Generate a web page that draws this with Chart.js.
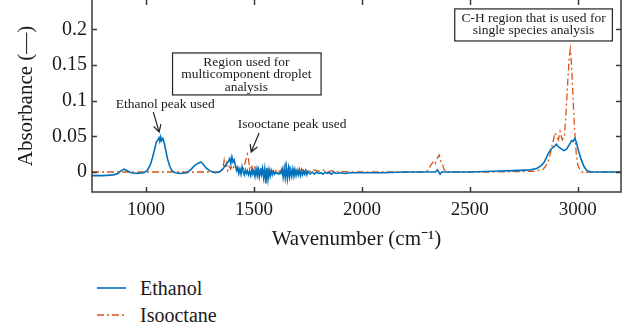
<!DOCTYPE html>
<html lang="en">
<head>
<meta charset="UTF-8" />
<title>FTIR absorbance</title>
<script src="https://cdn.jsdelivr.net/npm/chart.js"></script>
<style>
  body { margin: 0; background: #fff; }
  #wrap { position: relative; width: 631px; height: 332px; font-family: "Liberation Serif", serif; }
  #legend { position: absolute; left: 0; top: 262px; width: 631px; height: 70px; }
  .item { position: absolute; left: 97px; height: 24px; display: flex; align-items: center; font-size: 20px; color: #1a1a1a; }
  .item svg { margin-right: 14px; }
</style>
</head>
<body>
<div id="wrap">
  <canvas id="chart" width="631" height="262"></canvas>
  <div id="legend"></div>
</div>
<script>
// spectra: [wavenumber, absorbance]
const ethanolPoints = [
  [750,-0.005],[800,-0.005],[850,-0.004],[870,-0.002],[885,0.002],[898,0.004],[912,0.002],[930,-0.001],
  [960,-0.002],[990,-0.001],[1005,0.002],[1020,0.01],[1030,0.02],[1040,0.032],[1048,0.042],[1055,0.045],
  [1060,0.048],[1064,0.043],[1068,0.049],[1072,0.044],[1078,0.047],[1085,0.04],[1092,0.03],[1100,0.018],
  [1110,0.008],[1120,0.002],[1135,-0.001],[1160,-0.002],[1190,-0.001],[1210,0.004],[1225,0.009],[1240,0.012],
  [1255,0.014],[1265,0.011],[1280,0.005],[1300,0.001],[1320,-0.001],[1340,0],[1355,0.004],[1370,0.01],
  [1380,0.014],[1388,0.019],[1393,0.012],[1398,0.021],[1403,0.014],[1408,0.017],[1415,0.008],[1420,0.002],
  [1425,0.006],[1430,-0.002],[1435,0.004],[1440,-0.003],[1445,0.007],[1450,0],[1455,-0.004],[1460,0.003],
  [1465,-0.002],[1470,0.002],[1475,-0.004],[1480,0.001],[1485,-0.005],[1490,0.003],[1495,-0.003],[1500,0.002],
  [1505,-0.006],[1510,0.004],[1515,-0.005],[1520,0.003],[1525,-0.007],[1530,0.002],[1535,-0.004],[1540,0.005],
  [1545,-0.008],[1550,0.004],[1555,-0.016],[1560,0.006],[1565,-0.01],[1570,0.003],[1575,-0.006],[1580,0.002],
  [1585,-0.004],[1590,0.001],[1595,-0.003],[1600,0],[1605,-0.002],[1610,-0.001],[1615,-0.003],[1620,-0.001],
  [1625,-0.002],[1630,0.004],[1635,-0.007],[1640,0.005],[1645,-0.008],[1650,0.006],[1655,-0.009],[1660,0.005],
  [1665,-0.007],[1670,0.003],[1675,-0.006],[1680,0.004],[1685,-0.006],[1690,0.003],[1695,-0.005],[1700,0.002],
  [1705,-0.004],[1710,0.003],[1715,-0.005],[1720,0.002],[1725,-0.004],[1730,0.001],[1735,-0.003],[1740,0.002],
  [1745,-0.004],[1750,0.001],[1760,-0.003],[1770,0],[1780,-0.003],[1790,0],[1800,-0.002],[1810,-0.001],
  [1820,-0.003],[1830,0],[1840,-0.002],[1850,-0.001],[1860,-0.003],[1870,0],[1880,-0.002],[1900,-0.001],
  [1920,-0.002],[1950,-0.001],[2000,-0.001],[2100,-0.001],[2200,0],[2300,0],[2340,0],[2350,0.003],
  [2356,0],[2362,-0.003],[2370,0],[2400,0],[2500,0],[2600,0.001],[2700,0.002],[2780,0.003],[2810,0.005],
  [2830,0.009],[2845,0.014],[2860,0.024],[2875,0.032],[2888,0.035],[2895,0.037],[2901,0.039],[2908,0.036],
  [2920,0.033],[2935,0.03],[2948,0.032],[2960,0.038],[2972,0.044],[2978,0.043],[2986,0.047],[2993,0.042],
  [3003,0.03],[3015,0.018],[3028,0.008],[3042,0.002],[3060,0],[3200,0]
];
const isooctanePoints = [
  [750,0],[1000,0],[1200,0],[1340,0],[1355,0.003],[1362,0.016],[1367,0.005],[1372,0.012],[1378,0.002],
  [1385,0.008],[1392,0.004],[1400,0.01],[1410,0.004],[1420,0.007],[1430,0.003],[1440,0.006],[1450,0.004],
  [1458,0.012],[1465,0.02],[1470,0.025],[1475,0.018],[1480,0.005],[1488,0.01],[1495,0.002],[1502,0.008],
  [1510,0],[1518,0.006],[1525,0.001],[1532,0.007],[1540,0],[1550,0.005],[1560,0],[1570,0.004],[1580,0],
  [1590,0.003],[1600,0.001],[1610,0.004],[1620,0],[1630,0.005],[1640,0],[1648,0.012],[1655,0],[1662,0.008],
  [1670,0],[1680,0.006],[1690,0],[1700,0.005],[1710,0],[1720,0.004],[1735,0.001],[1750,0.003],[1765,0],
  [1780,0.003],[1800,0.001],[1820,0.003],[1840,0],[1860,0.002],[1880,0],[1900,0.001],[1950,0],[2000,0],
  [2290,0],[2305,0.002],[2320,0.01],[2332,0.015],[2340,0.012],[2350,0.02],[2358,0.024],[2365,0.015],
  [2372,0.012],[2380,0.004],[2390,0],[2600,0],[2800,0.001],[2840,0.004],[2860,0.012],[2872,0.025],
  [2885,0.042],[2895,0.055],[2902,0.05],[2910,0.045],[2918,0.057],[2928,0.045],[2938,0.05],[2945,0.08],
  [2952,0.12],[2960,0.16],[2965,0.172],[2970,0.155],[2977,0.11],[2985,0.06],[2993,0.025],[3000,0.01],
  [3010,0.003],[3025,-0.001],[3050,0],[3200,0]
];
const xTicks = [1000, 1500, 2000, 2500, 3000];
const yTicks = [0, 0.05, 0.1, 0.15, 0.2];
const yTickLabels = ['0', '0.05', '0.1', '0.15', '0.2'];

const blue = 'rgb(0,114,189)';
const orange = 'rgb(217,83,25)';
const ink = '#1a1a1a';

Chart.defaults.font.family = '"Liberation Serif", serif';
Chart.defaults.color = ink;

// boxes, labels and arrows, placed in data units
const notes = [
  { type: 'text', x: 1089, y: 0.094, lines: ['Ethanol peak used'] },
  { type: 'arrow', x1: 1034, y1: 0.084, x2: 1061, y2: 0.056 },
  { type: 'text', x: 1677, y: 0.066, lines: ['Isooctane peak used'] },
  { type: 'arrow', x1: 1524, y1: 0.0547, x2: 1487, y2: 0.028 },
  { type: 'box', x1: 1123, y1: 0.1668, x2: 1811, y2: 0.108, x: 1465, y: 0.1365,
    lines: ['Region used for', 'multicomponent droplet', 'analysis'] },
  { type: 'box', x1: 2430, y1: 0.2285, x2: 3160, y2: 0.1836, x: 2795, y: 0.207,
    lines: ['C-H region that is used for', 'single species analysis'] }
];

const framePlugin = {
  id: 'frame',
  afterDraw(chart) {
    const { ctx, chartArea: a, scales: { x, y } } = chart;
    ctx.save();
    ctx.strokeStyle = '#3a3a3a';
    ctx.lineWidth = 1.5;
    ctx.beginPath();
    ctx.moveTo(a.left, a.top); ctx.lineTo(a.left, a.bottom);
    ctx.lineTo(a.right, a.bottom); ctx.lineTo(a.right, a.top);
    xTicks.forEach(v => {
      const px = Math.round(x.getPixelForValue(v)) + 0.5;
      ctx.moveTo(px, a.bottom); ctx.lineTo(px, a.bottom - 5);
      ctx.moveTo(px, a.top); ctx.lineTo(px, a.top + 5);
    });
    yTicks.forEach(v => {
      const py = Math.round(y.getPixelForValue(v)) + 0.5;
      ctx.moveTo(a.left, py); ctx.lineTo(a.left + 5, py);
      ctx.moveTo(a.right, py); ctx.lineTo(a.right - 5, py);
    });
    ctx.stroke();

    ctx.font = '13.5px "Liberation Serif", serif';
    ctx.fillStyle = ink;
    ctx.strokeStyle = '#222';
    ctx.textAlign = 'center';
    ctx.textBaseline = 'middle';
    notes.forEach(n => {
      if (n.type === 'arrow') {
        const x1 = x.getPixelForValue(n.x1), y1 = y.getPixelForValue(n.y1);
        const x2 = x.getPixelForValue(n.x2), y2 = y.getPixelForValue(n.y2);
        const ang = Math.atan2(y2 - y1, x2 - x1);
        ctx.lineWidth = 1.2;
        ctx.beginPath();
        ctx.moveTo(x1, y1); ctx.lineTo(x2, y2);
        ctx.moveTo(x2 - 8 * Math.cos(ang - 0.5), y2 - 8 * Math.sin(ang - 0.5));
        ctx.lineTo(x2, y2);
        ctx.lineTo(x2 - 8 * Math.cos(ang + 0.5), y2 - 8 * Math.sin(ang + 0.5));
        ctx.stroke();
        return;
      }
      if (n.type === 'box') {
        const bx = x.getPixelForValue(n.x1), by = y.getPixelForValue(n.y1);
        const bw = x.getPixelForValue(n.x2) - bx, bh = y.getPixelForValue(n.y2) - by;
        ctx.fillStyle = '#fff';
        ctx.fillRect(bx, by, bw, bh);
        ctx.lineWidth = 1.2;
        ctx.strokeRect(bx, by, bw, bh);
        ctx.fillStyle = ink;
      }
      const cx = x.getPixelForValue(n.x), cy = y.getPixelForValue(n.y);
      const lh = 12.5;
      n.lines.forEach((t, i) => {
        ctx.fillText(t, cx, cy + (i - (n.lines.length - 1) / 2) * lh);
      });
    });
    ctx.restore();
  }
};

const chart = new Chart(document.getElementById('chart'), {
  type: 'line',
  data: {
    datasets: [
      {
        label: 'Ethanol',
        data: ethanolPoints.map(p => ({ x: p[0], y: p[1] })),
        borderColor: blue,
        borderWidth: 1.6,
        pointRadius: 0,
        tension: 0
      },
      {
        label: 'Isooctane',
        data: isooctanePoints.map(p => ({ x: p[0], y: p[1] })),
        borderColor: orange,
        borderWidth: 1.3,
        borderDash: [7, 3, 2, 3],
        pointRadius: 0,
        tension: 0
      }
    ]
  },
  options: {
    responsive: false,
    animation: false,
    devicePixelRatio: 1,
    layout: { padding: { top: 0, right: 10, left: 0, bottom: 0 } },
    plugins: { legend: { display: false }, tooltip: { enabled: false } },
    scales: {
      x: {
        type: 'linear',
        min: 750,
        max: 3200,
        grid: { display: false, drawTicks: false },
        border: { display: false },
        afterBuildTicks: s => { s.ticks = xTicks.map(v => ({ value: v })); },
        afterFit: s => { s.height = 70; s.paddingLeft = 0; s.paddingRight = 0; },
        ticks: { padding: 7, font: { size: 19 }, maxRotation: 0, autoSkip: false, callback: v => String(v) },
        title: { display: true, text: 'Wavenumber (cm\u207B\u00B9)', font: { size: 21 }, padding: { top: 0, bottom: 10 } }
      },
      y: {
        min: -0.028,
        max: 0.241,
        grid: { display: false, drawTicks: false },
        border: { display: false },
        afterBuildTicks: s => { s.ticks = yTicks.map(v => ({ value: v })); },
        afterFit: s => { s.width = 92; s.paddingTop = 0; s.paddingBottom = 0; },
        ticks: { padding: 5, font: { size: 20 }, autoSkip: false, callback: v => yTickLabels[yTicks.indexOf(v)] },
        title: { display: true, text: 'Absorbance (\u2014)', font: { size: 21 }, padding: { top: 14, bottom: 0 } }
      }
    }
  },
  plugins: [framePlugin]
});

// legend below the plot, two rows
const legend = document.getElementById('legend');
chart.data.datasets.forEach((ds, i) => {
  const item = document.createElement('div');
  item.className = 'item';
  item.style.top = (14 + i * 27) + 'px';
  const dash = ds.borderDash ? ds.borderDash.join(',') : 'none';
  item.innerHTML = '<svg width="29" height="4"><line x1="0" y1="2" x2="29" y2="2" stroke="' + ds.borderColor +
    '" stroke-width="' + ds.borderWidth + '" stroke-dasharray="' + dash + '"/></svg><span>' + ds.label + '</span>';
  legend.appendChild(item);
});
</script>
</body>
</html>
